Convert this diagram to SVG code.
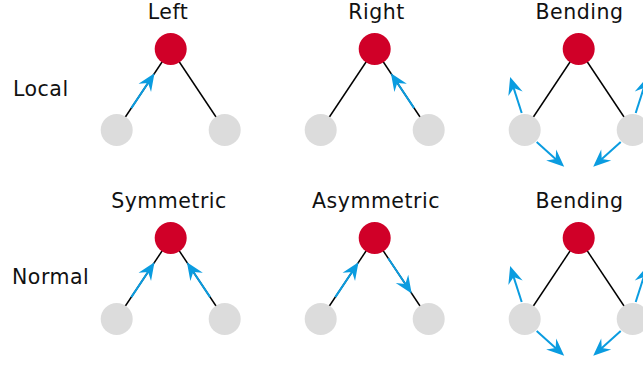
<svg xmlns="http://www.w3.org/2000/svg" width="643" height="366" viewBox="0 0 643 366">
<style>
text{font-family:"DejaVu Sans","Liberation Sans",sans-serif;font-size:20.5px;fill:#111;letter-spacing:0.5px}
.t{text-anchor:middle}
.bond{stroke:#000;stroke-width:1.5;fill:none}
.arr{stroke:#0A9CE0;stroke-width:2;fill:none;marker-end:url(#ah)}
.red{fill:#D00028}
.gray{fill:#DCDCDC}
</style>
<defs>
<marker id="ah" markerUnits="userSpaceOnUse" orient="auto" refX="0" refY="0" markerWidth="20" markerHeight="20" overflow="visible">
<path d="M9,0 L-8.5,-7.5 L-2.5,0 L-8.5,7.5 Z" fill="#0A9CE0"/>
</marker>
</defs>
<rect width="643" height="366" fill="#fff"/>
<text x="168" y="19" class="t">Left</text>
<text x="376.5" y="19" class="t">Right</text>
<text x="579.5" y="19" class="t">Bending</text>
<text x="169" y="208" class="t">Symmetric</text>
<text x="376" y="208" class="t">Asymmetric</text>
<text x="579.5" y="208" class="t">Bending</text>
<text x="13" y="96">Local</text>
<text x="12" y="284">Normal</text>
<g id="connectors">
<line class="bond" x1="116.7" y1="130" x2="170.7" y2="49"/>
<line class="bond" x1="224.7" y1="130" x2="170.7" y2="49"/>
<line class="bond" x1="320.7" y1="130" x2="374.7" y2="49"/>
<line class="bond" x1="428.7" y1="130" x2="374.7" y2="49"/>
<line class="bond" x1="524.7" y1="130" x2="578.7" y2="49"/>
<line class="bond" x1="632.7" y1="130" x2="578.7" y2="49"/>
<line class="bond" x1="116.7" y1="319" x2="170.7" y2="238"/>
<line class="bond" x1="224.7" y1="319" x2="170.7" y2="238"/>
<line class="bond" x1="320.7" y1="319" x2="374.7" y2="238"/>
<line class="bond" x1="428.7" y1="319" x2="374.7" y2="238"/>
<line class="bond" x1="524.7" y1="319" x2="578.7" y2="238"/>
<line class="bond" x1="632.7" y1="319" x2="578.7" y2="238"/>
<line class="arr" x1="131.3" y1="108.1" x2="149.5" y2="80.8"/>
<line class="arr" x1="414.1" y1="108.1" x2="395.9" y2="80.8"/>
<line class="arr" x1="521.7" y1="113" x2="512.9" y2="85.6"/>
<line class="arr" x1="536.7" y1="142" x2="557.5" y2="160.7"/>
<line class="arr" x1="635.7" y1="113" x2="644.5" y2="85.6"/>
<line class="arr" x1="620.7" y1="142" x2="599.9" y2="160.7"/>
<line class="arr" x1="131.3" y1="297.1" x2="149.5" y2="269.8"/>
<line class="arr" x1="210.1" y1="297.1" x2="191.9" y2="269.8"/>
<line class="arr" x1="335.3" y1="297.1" x2="353.5" y2="269.8"/>
<line class="arr" x1="388.2" y1="258.2" x2="406.7" y2="286"/>
<line class="arr" x1="521.7" y1="302" x2="512.9" y2="274.6"/>
<line class="arr" x1="536.7" y1="331" x2="557.5" y2="349.7"/>
<line class="arr" x1="635.7" y1="302" x2="644.5" y2="274.6"/>
<line class="arr" x1="620.7" y1="331" x2="599.9" y2="349.7"/>
</g>
<g id="local-left"><circle class="red" cx="170.7" cy="49" r="16"/><circle class="gray" cx="116.7" cy="130" r="16"/><circle class="gray" cx="224.7" cy="130" r="16"/></g>
<g id="local-right"><circle class="red" cx="374.7" cy="49" r="16"/><circle class="gray" cx="320.7" cy="130" r="16"/><circle class="gray" cx="428.7" cy="130" r="16"/></g>
<g id="local-bending"><circle class="red" cx="578.7" cy="49" r="16"/><circle class="gray" cx="524.7" cy="130" r="16"/><circle class="gray" cx="632.7" cy="130" r="16"/></g>
<g id="normal-symmetric"><circle class="red" cx="170.7" cy="238" r="16"/><circle class="gray" cx="116.7" cy="319" r="16"/><circle class="gray" cx="224.7" cy="319" r="16"/></g>
<g id="normal-asymmetric"><circle class="red" cx="374.7" cy="238" r="16"/><circle class="gray" cx="320.7" cy="319" r="16"/><circle class="gray" cx="428.7" cy="319" r="16"/></g>
<g id="normal-bending"><circle class="red" cx="578.7" cy="238" r="16"/><circle class="gray" cx="524.7" cy="319" r="16"/><circle class="gray" cx="632.7" cy="319" r="16"/></g>
</svg>
